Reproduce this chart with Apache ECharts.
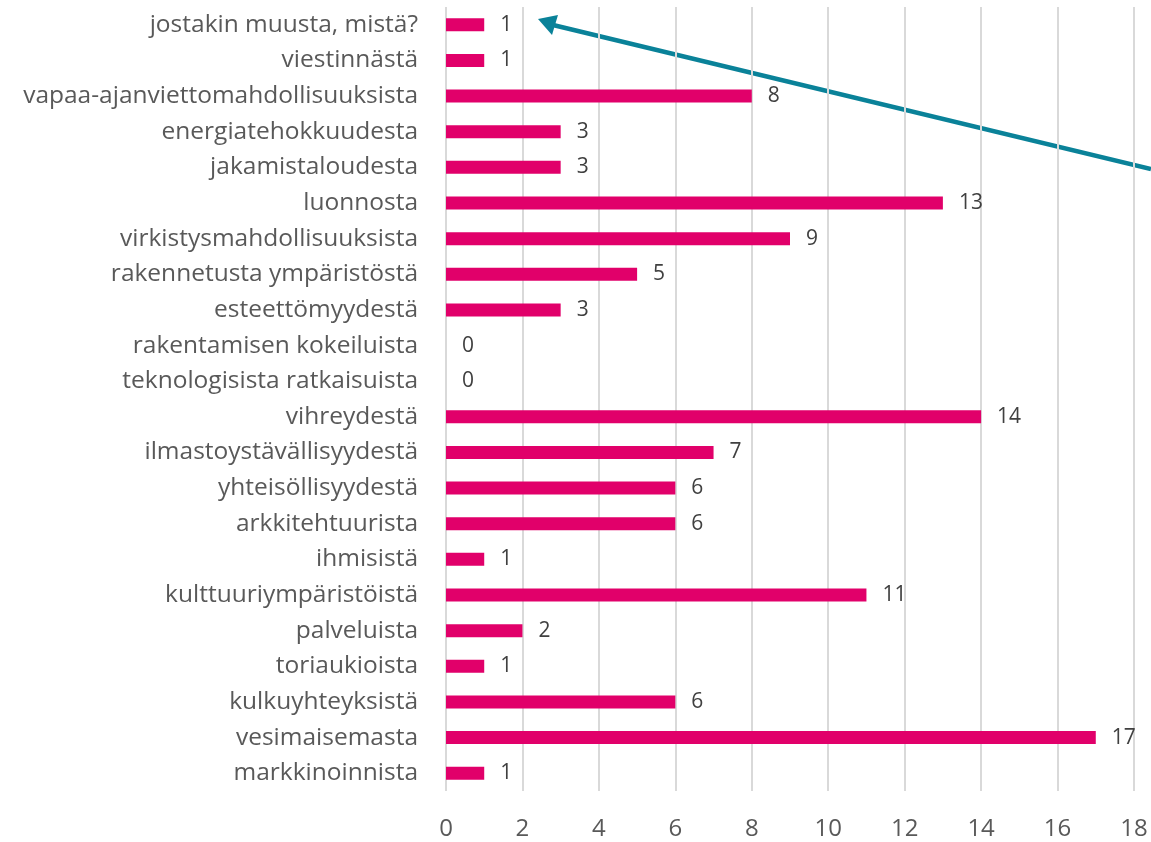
<!DOCTYPE html>
<html>
<head>
<meta charset="utf-8">
<script src="https://cdn.jsdelivr.net/npm/echarts@6/dist/echarts.min.js"></script>
<style>
  html, body { margin: 0; padding: 0; background: #fff; }
  #chart { width: 1151px; height: 842px; }
</style>
</head>
<body>
<div id="chart"></div>
<script>
// kategoriat alhaalta ylös
var categories = [
  'markkinoinnista', 'vesimaisemasta', 'kulkuyhteyksistä', 'toriaukioista',
  'palveluista', 'kulttuuriympäristöistä', 'ihmisistä', 'arkkitehtuurista',
  'yhteisöllisyydestä', 'ilmastoystävällisyydestä', 'vihreydestä',
  'teknologisista ratkaisuista', 'rakentamisen kokeiluista', 'esteettömyydestä',
  'rakennetusta ympäristöstä', 'virkistysmahdollisuuksista', 'luonnosta',
  'jakamistaloudesta', 'energiatehokkuudesta', 'vapaa-ajanviettomahdollisuuksista',
  'viestinnästä', 'jostakin muusta, mistä?'
];
var counts = [1, 17, 6, 1, 2, 11, 1, 6, 6, 7, 14, 0, 0, 3, 5, 9, 13, 3, 3, 8, 1, 1];
var xTicks = [0, 18, 2]; // min, max, interval

var font = '"Open Sans", "Noto Sans", sans-serif';
var myChart = echarts.init(document.getElementById('chart'));

myChart.setOption({
  animation: false,
  grid: { left: 446, right: 17, top: 7, bottom: 51 },
  xAxis: {
    type: 'value',
    min: xTicks[0],
    max: xTicks[1],
    interval: xTicks[2],
    axisLine: { show: false },
    axisTick: { show: false },
    splitLine: { lineStyle: { color: '#d9d9d9', width: 2 } },
    axisLabel: { color: '#595959', fontSize: 24, fontFamily: font, margin: 26 }
  },
  yAxis: {
    type: 'category',
    data: categories,
    axisLine: { show: false },
    axisTick: { show: false },
    axisLabel: { color: '#595959', fontSize: 24.5, fontFamily: font, margin: 28 }
  },
  series: [{
    type: 'bar',
    data: counts,
    barWidth: 13,
    itemStyle: { color: '#e1006a' },
    label: {
      show: true,
      position: 'right',
      distance: 16,
      color: '#404040',
      fontSize: 21,
      fontFamily: font
    }
  }],
  // nuoli (huomautus)
  graphic: [
    {
      type: 'line',
      shape: { x1: 1151, y1: 169, x2: 553, y2: 25 },
      style: { stroke: '#0a8299', lineWidth: 4.5 }
    },
    {
      type: 'polygon',
      shape: { points: [[538, 19], [558, 15], [552, 35]] },
      style: { fill: '#0a8299' }
    }
  ]
});

window.onresize = function () {
  myChart.resize();
};
</script>
</body>
</html>
